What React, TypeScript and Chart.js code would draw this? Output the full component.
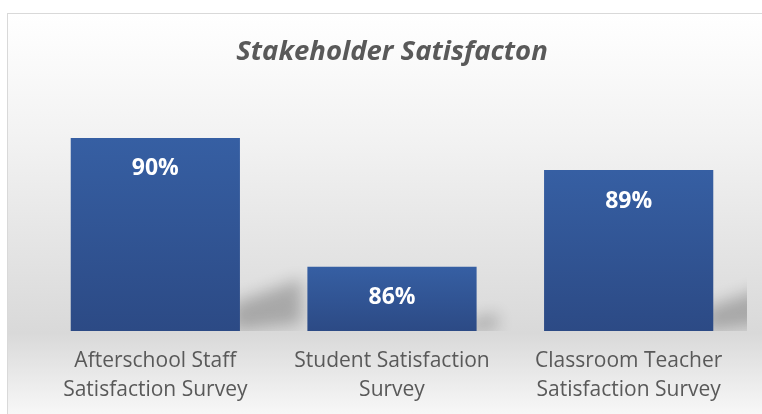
import React, { useEffect, useRef } from "react";
import { Chart, registerables } from "chart.js";

Chart.register(...registerables);

const categories: string[][] = [
  ["Afterschool Staff", "Satisfaction Survey"],
  ["Student Satisfaction", "Survey"],
  ["Classroom Teacher", "Satisfaction Survey"],
];
const values: number[] = [90, 86, 89];
const valueLabels: string[] = ["90%", "86%", "89%"];
const yMin = 84;
const yMax = 92;
const chartTitle = "Stakeholder Satisfacton";

const shadowPlugin = {
  id: "barShadow",
  beforeDatasetsDraw(chart: any) {
    const ctx = chart.ctx;
    const area = chart.chartArea;
    const meta = chart.getDatasetMeta(0);
    const bottom = area.bottom;
    ctx.save();
    ctx.beginPath();
    ctx.rect(area.left, area.top, area.right - area.left, area.bottom - area.top);
    ctx.clip();
    const off = 2000;
    ctx.shadowColor = "rgba(0,0,0,0.24)";
    ctx.shadowBlur = 16;
    ctx.shadowOffsetX = off;
    ctx.shadowOffsetY = 0;
    ctx.fillStyle = "#000000";
    meta.data.forEach((bar: any) => {
      const right = bar.x + bar.width / 2;
      const h = bottom - bar.y;
      if (!Number.isFinite(right) || !Number.isFinite(h)) return;
      ctx.beginPath();
      ctx.moveTo(right - 8 - off, bottom);
      ctx.lineTo(right - 8 - off, bottom - 0.14 * h);
      ctx.lineTo(right + 0.32 * h - off, bottom - 0.27 * h);
      ctx.lineTo(right + 0.32 * h - off, bottom - 0.04 * h);
      ctx.closePath();
      ctx.fill();
    });
    ctx.restore();
  },
};

const labelPlugin = {
  id: "barLabels",
  afterDatasetsDraw(chart: any) {
    const ctx = chart.ctx;
    const meta = chart.getDatasetMeta(0);
    ctx.save();
    ctx.fillStyle = "#ffffff";
    ctx.font = "bold 23px 'Open Sans'";
    ctx.textAlign = "center";
    ctx.textBaseline = "middle";
    meta.data.forEach((bar: any, i: number) => {
      ctx.fillText(valueLabels[i], bar.x, bar.y + 31);
    });
    ctx.restore();
  },
};

export default function App() {
  const ref = useRef<HTMLCanvasElement | null>(null);
  useEffect(() => {
    if (!ref.current) return;
    const chart = new Chart(ref.current, {
      type: "bar",
      data: {
        labels: categories,
        datasets: [
          {
            data: values,
            backgroundColor: (c: any) => {
              const ch = c.chart;
              const y = ch.scales?.y;
              if (!y || c.raw == null) return "#30559a";
              const top = y.getPixelForValue(c.raw);
              const base = y.getPixelForValue(yMin);
              if (!Number.isFinite(top) || !Number.isFinite(base) || top === base) return "#30559a";
              const g = ch.ctx.createLinearGradient(0, top, 0, base);
              g.addColorStop(0, "#365fa3");
              g.addColorStop(1, "#2c4a85");
              return g;
            },
            borderWidth: 0,
            categoryPercentage: 0.715,
            barPercentage: 1,
          },
        ],
      },
      options: {
        animation: false,
        responsive: false,
        maintainAspectRatio: false,
        layout: { padding: { left: 37, right: 15, top: 35.5, bottom: 0 } },
        plugins: {
          legend: { display: false },
          tooltip: { enabled: false },
          title: {
            display: true,
            text: chartTitle,
            color: "#595959",
            font: { family: "'Open Sans'", size: 27.5, weight: "bold", style: "italic", lineHeight: 1.2 },
            padding: { top: 0, bottom: 5 },
          },
        },
        scales: {
          x: {
            grid: { display: false },
            border: { display: false },
            ticks: {
              color: "#595959",
              font: { family: "'Open Sans'", size: 21, lineHeight: 29 / 21 },
              padding: 8,
              maxRotation: 0,
              autoSkip: false,
            },
            afterFit: (scale: any) => {
              scale.height = 83;
            },
          },
          y: { display: false, min: yMin, max: yMax },
        },
      },
      plugins: [shadowPlugin, labelPlugin],
    });
    return () => chart.destroy();
  }, []);
  return (
    <div style={{ position: "fixed", left: 0, top: 0, width: 762, height: 414, overflow: "hidden", background: "#ffffff" }}>
      <div
        style={{
          position: "absolute",
          left: 7,
          top: 13,
          width: 780,
          height: 420,
          border: "1.5px solid #d9d9d9",
          background: "linear-gradient(to bottom, #ffffff 0%, #f3f3f3 28%, #d9d9d9 76%, #ffffff 100%)",
        }}
      />
      <canvas ref={ref} width={762} height={414} style={{ position: "absolute", left: 0, top: 0, width: 762, height: 414 }} />
    </div>
  );
}
